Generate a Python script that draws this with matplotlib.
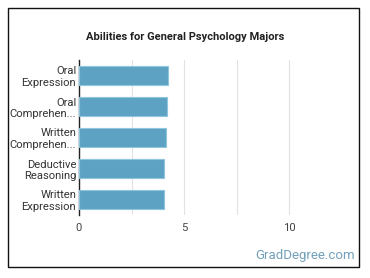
import matplotlib.pyplot as plt
from matplotlib.patches import Rectangle

plt.rcParams['font.family'] = ['Roboto', 'DejaVu Sans']

abilities = ["Oral\nExpression", "Oral\nComprehen...", "Written\nComprehen...",
             "Deductive\nReasoning", "Written\nExpression"]
scores = [4.25, 4.19, 4.13, 4.06, 4.06]
xticks = [0, 5, 10]

fig = plt.figure(figsize=(3.70, 2.78), dpi=100)
ax = fig.add_axes([79 / 370, 1 - 215 / 278, 262 / 370, 155 / 278])

pos = list(range(len(abilities)))
ax.barh(pos, scores, height=0.63, color="#5EA2C3", edgecolor="#8FC5DD",
        linewidth=0.8, zorder=3)
ax.set_ylim(len(abilities) - 0.5, -0.5)
ax.set_xlim(0, 12.45)
ax.set_yticks(pos)
ax.set_yticklabels(abilities, fontsize=8.1, color="#333333", linespacing=1.2)
ax.set_xticks(xticks)
ax.set_xticklabels([str(t) for t in xticks], fontsize=8.1, color="#444444")
ax.set_xticks([2.5, 7.5], minor=True)
ax.grid(axis="x", which="both", color="#e2e2e2", linewidth=0.8, zorder=0)
ax.tick_params(axis="y", length=0, pad=2)
ax.tick_params(axis="x", which="both", length=0, pad=6)
for s in ["top", "right", "bottom"]:
    ax.spines[s].set_visible(False)
ax.spines["left"].set_color("#222222")
ax.spines["left"].set_linewidth(1.0)

fig.text(0.5, 1 - 37 / 278, "Abilities for General Psychology Majors",
         ha="center", va="center", fontsize=8.0, fontweight="bold", color="#222222")
fig.text(355 / 370, 1 - 255 / 278, "GradDegree.com", ha="right", va="center",
         fontsize=9.5, color="#72A0BA")

fig.patches.append(Rectangle((8 / 370, 1 - 267 / 278), 351 / 370, 259 / 278,
                             transform=fig.transFigure, fill=False,
                             edgecolor="#111111", linewidth=1.0))

fig.savefig("out.png", dpi=100)
